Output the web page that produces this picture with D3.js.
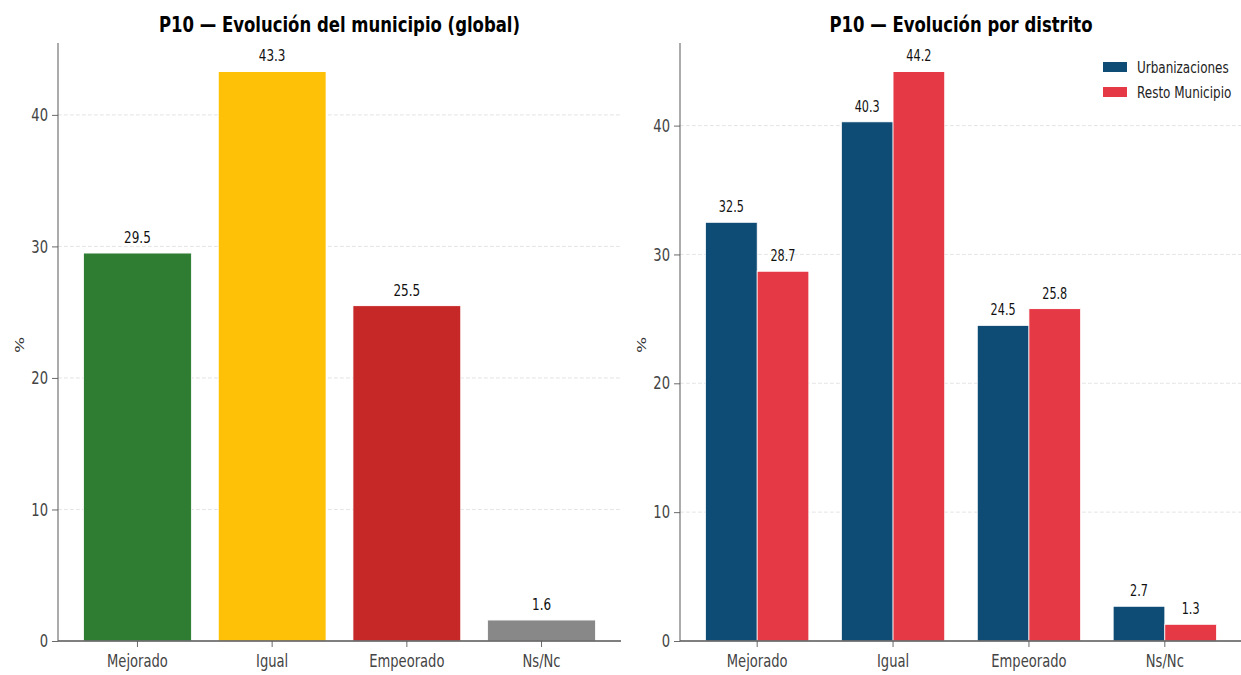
<!DOCTYPE html>
<html>
<head>
<meta charset="utf-8">
<script src="https://cdn.jsdelivr.net/npm/d3@7"></script>
<style>
  html, body { margin: 0; padding: 0; background: #fff; }
  svg { display: block; }
  text { font-family: "DejaVu Sans", sans-serif; }
</style>
</head>
<body>
<svg id="chart"></svg>
<script>
// data
const categories = ["Mejorado", "Igual", "Empeorado", "Ns/Nc"];
const globalValues = [29.5, 43.3, 25.5, 1.6];
const globalColors = ["#2e7d32", "#ffc107", "#c62828", "#888888"];
const series = ["Urbanizaciones", "Resto Municipio"];
const urbanValues = [32.5, 40.3, 24.5, 2.7];
const restoValues = [28.7, 44.2, 25.8, 1.3];
const seriesColors = ["#0f4c75", "#e63946"];
const yTicks = [0, 10, 20, 30, 40];

// the picture is horizontally condensed, so draw in a wider space and squash it
const outW = 1241, outH = 675, sx = 0.75;
const W = outW / sx, H = outH;

const svg = d3.select("#chart")
    .attr("width", outW).attr("height", outH)
    .attr("viewBox", `0 0 ${W} ${H}`)
    .attr("preserveAspectRatio", "none");

const plotTop = 43, plotBottom = 641;

function drawAxes(g, x0, x1, y, title) {
    // grid
    g.selectAll(".grid").data(yTicks.filter(d => d > 0)).enter()
        .append("line")
        .attr("x1", x0).attr("x2", x1)
        .attr("y1", d => y(d)).attr("y2", d => y(d))
        .attr("stroke", "#d9d9d9").attr("stroke-width", 1)
        .attr("stroke-dasharray", "5,3").attr("opacity", 0.8);

    const yAxis = g.append("g").attr("transform", `translate(${x0},0)`)
        .call(d3.axisLeft(y).tickValues(yTicks).tickSize(6 / sx).tickPadding(4 / sx));
    yAxis.select(".domain").remove();
    yAxis.selectAll(".tick line").attr("stroke", "#555");
    yAxis.selectAll(".tick text").attr("fill", "#444").style("font-size", "17.5px");

    g.append("line").attr("x1", x0).attr("x2", x0)
        .attr("y1", plotTop).attr("y2", plotBottom)
        .attr("stroke", "#555").attr("stroke-width", 1.3);

    g.append("text")
        .attr("transform", `translate(${x0 - 34 / sx},345) rotate(-90)`)
        .attr("text-anchor", "middle")
        .attr("fill", "#333").style("font-size", "17px")
        .text("%");

    g.append("text")
        .attr("x", (x0 + x1) / 2).attr("y", 32)
        .attr("text-anchor", "middle")
        .attr("font-weight", "bold").style("font-size", "22px")
        .attr("fill", "#000")
        .text(title);
}

function drawXAxis(g, x, x0, x1) {
    const xAxis = g.append("g").attr("transform", `translate(0,${plotBottom})`)
        .call(d3.axisBottom(x).tickSize(6).tickPadding(8));
    xAxis.select(".domain").remove();
    xAxis.selectAll(".tick line").attr("stroke", "#555");
    xAxis.selectAll(".tick text").attr("fill", "#444").style("font-size", "17.5px");
    g.append("line").attr("x1", x0).attr("x2", x1)
        .attr("y1", plotBottom).attr("y2", plotBottom)
        .attr("stroke", "#555").attr("stroke-width", 1.3);
}

// ---- left panel
{
    const x0 = 58 / sx, x1 = 621 / sx;
    const g = svg.append("g");
    const y = d3.scaleLinear().domain([0, 43.3 * 1.05]).range([plotBottom, plotTop]);
    const x = d3.scaleBand().domain(categories).range([x0, x1])
        .paddingInner(0.2).paddingOuter(0.19);

    drawAxes(g, x0, x1, y, "P10 — Evolución del municipio (global)");

    const data = categories.map((c, i) => ({ c, v: globalValues[i], col: globalColors[i] }));
    g.selectAll(".bar").data(data).enter()
        .append("rect")
        .attr("x", d => x(d.c)).attr("width", x.bandwidth())
        .attr("y", d => y(d.v)).attr("height", d => y(0) - y(d.v))
        .attr("fill", d => d.col)
        .attr("stroke", "#fff").attr("stroke-width", 1);

    g.selectAll(".lbl").data(data).enter()
        .append("text")
        .attr("x", d => x(d.c) + x.bandwidth() / 2)
        .attr("y", d => y(d.v) - 10)
        .attr("text-anchor", "middle")
        .style("font-size", "16px").attr("fill", "#111")
        .text(d => d.v.toFixed(1));

    drawXAxis(g, x, x0, x1);
}

// ---- right panel
{
    const x0 = 680 / sx, x1 = 1242 / sx;
    const g = svg.append("g");
    const y = d3.scaleLinear().domain([0, 44.2 * 1.05]).range([plotBottom, plotTop]);
    const x = d3.scaleBand().domain(categories).range([x0, x1])
        .paddingInner(0.24).paddingOuter(0.188);
    const xs = d3.scaleBand().domain(series).range([0, x.bandwidth()]);

    drawAxes(g, x0, x1, y, "P10 — Evolución por distrito");

    const values = [urbanValues, restoValues];
    const data = [];
    series.forEach((s, j) => categories.forEach((c, i) =>
        data.push({ s, c, v: values[j][i], col: seriesColors[j] })));

    g.selectAll(".bar").data(data).enter()
        .append("rect")
        .attr("x", d => x(d.c) + xs(d.s)).attr("width", xs.bandwidth())
        .attr("y", d => y(d.v)).attr("height", d => y(0) - y(d.v))
        .attr("fill", d => d.col)
        .attr("stroke", "#fff").attr("stroke-width", 1);

    g.selectAll(".lbl").data(data).enter()
        .append("text")
        .attr("x", d => x(d.c) + xs(d.s) + xs.bandwidth() / 2)
        .attr("y", d => y(d.v) - 10)
        .attr("text-anchor", "middle")
        .style("font-size", "15px").attr("fill", "#111")
        .text(d => d.v.toFixed(1));

    drawXAxis(g, x, x0, x1);

    // legend
    const lg = g.append("g").attr("transform", `translate(${1103 / sx},0)`);
    series.forEach((s, j) => {
        lg.append("rect")
            .attr("x", 0).attr("y", 62 + j * 25)
            .attr("width", 24 / sx).attr("height", 10)
            .attr("fill", seriesColors[j]);
        lg.append("text")
            .attr("x", 34 / sx).attr("y", 67 + j * 25)
            .attr("dy", "0.35em")
            .style("font-size", "16px").attr("fill", "#222")
            .text(s);
    });
}
</script>
</body>
</html>
